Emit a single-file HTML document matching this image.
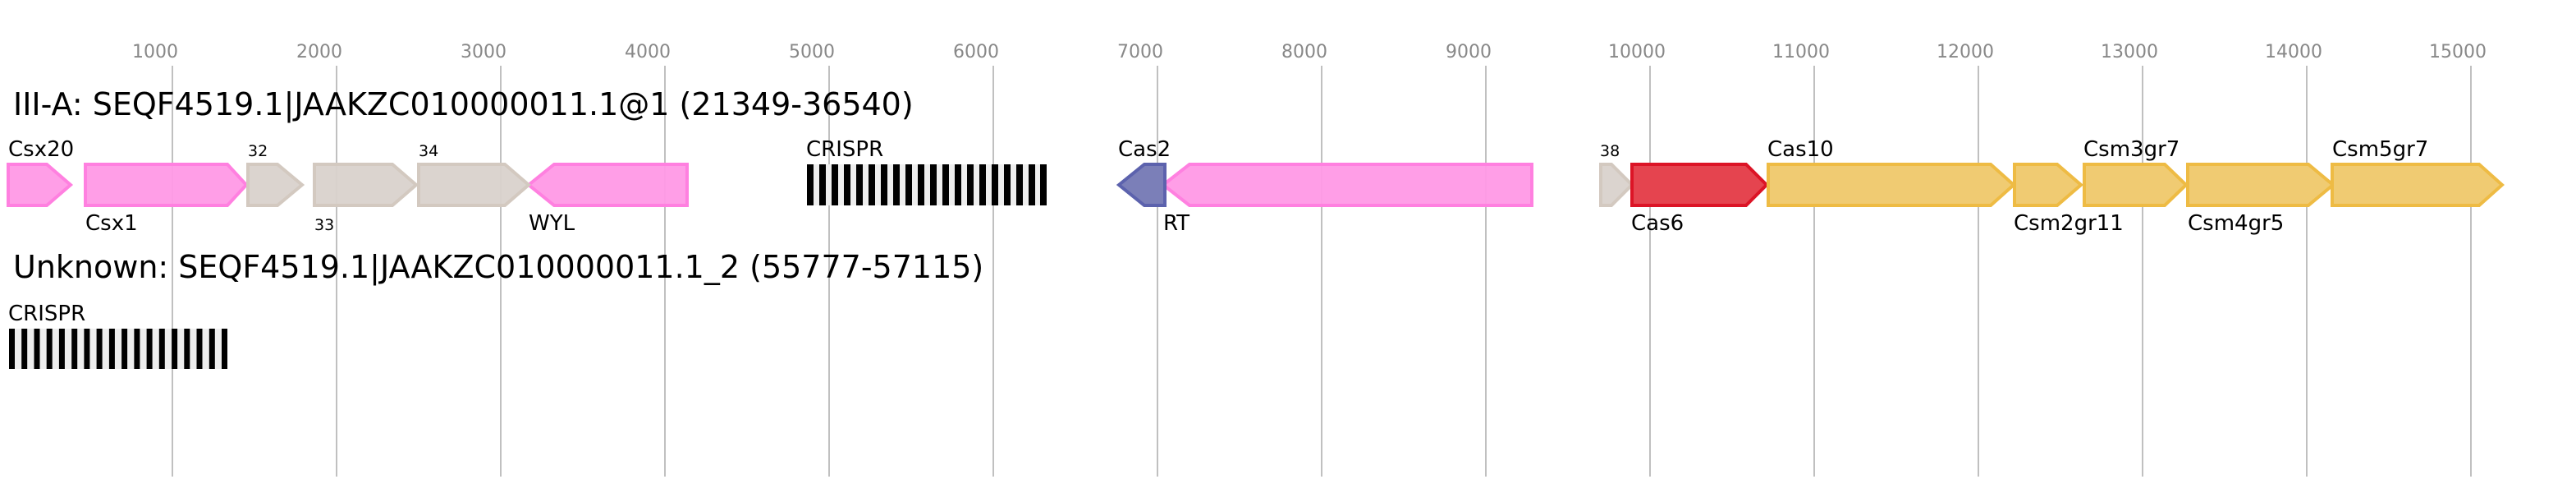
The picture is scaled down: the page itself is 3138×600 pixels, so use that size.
<!DOCTYPE html>
<html><head><meta charset="utf-8"><style>
html,body{margin:0;padding:0;background:#fff;width:3138px;height:600px;overflow:hidden}
text{font-family:"DejaVu Sans","Liberation Sans",sans-serif}
</style></head><body>
<svg width="3138" height="600" viewBox="0 0 3138 600" xmlns="http://www.w3.org/2000/svg">
<g stroke="#c0c0c0" stroke-width="2">
<line x1="210" y1="80" x2="210" y2="580"/><line x1="410" y1="80" x2="410" y2="580"/>
<line x1="610" y1="80" x2="610" y2="580"/><line x1="810" y1="80" x2="810" y2="580"/>
<line x1="1010" y1="80" x2="1010" y2="580"/><line x1="1210" y1="80" x2="1210" y2="580"/>
<line x1="1410" y1="80" x2="1410" y2="580"/><line x1="1610" y1="80" x2="1610" y2="580"/>
<line x1="1810" y1="80" x2="1810" y2="580"/><line x1="2010" y1="80" x2="2010" y2="580"/>
<line x1="2210" y1="80" x2="2210" y2="580"/><line x1="2410" y1="80" x2="2410" y2="580"/>
<line x1="2610" y1="80" x2="2610" y2="580"/><line x1="2810" y1="80" x2="2810" y2="580"/>
<line x1="3010" y1="80" x2="3010" y2="580"/>
</g>
<g fill="#888" font-size="22" text-anchor="middle">
<text x="189" y="70">1000</text><text x="389" y="70">2000</text><text x="589" y="70">3000</text>
<text x="789" y="70">4000</text><text x="989" y="70">5000</text><text x="1189" y="70">6000</text>
<text x="1389" y="70">7000</text><text x="1589" y="70">8000</text><text x="1789" y="70">9000</text>
<text x="1994" y="70">10000</text><text x="2194" y="70">11000</text><text x="2394" y="70">12000</text>
<text x="2594" y="70">13000</text><text x="2794" y="70">14000</text><text x="2994" y="70">15000</text>
</g>
<text x="16" y="140" font-size="38" fill="#000">III-A: SEQF4519.1|JAAKZC010000011.1@1 (21349-36540)</text>
<text x="16" y="338" font-size="38" fill="#000">Unknown: SEQF4519.1|JAAKZC010000011.1_2 (55777-57115)</text>
<g stroke-width="4" stroke-linejoin="miter">
<g fill="#ff99e6" stroke="#ff80e0" fill-opacity="0.95">
<polygon points="10,200 57,200 86,225 57,250 10,250"/>
<polygon points="104,200 277,200 300,225 277,250 104,250"/>
<polygon points="644,225 675,200 837,200 837,250 675,250"/>
<polygon points="1417,225 1449,200 1866,200 1866,250 1449,250"/>
</g>
<g fill="#d9d2cc" stroke="#d3c9c0" fill-opacity="0.95">
<polygon points="302,200 338,200 368,225 338,250 302,250"/>
<polygon points="383,200 478,200 507,225 478,250 383,250"/>
<polygon points="510,200 615,200 644,225 615,250 510,250"/>
<polygon points="1950,200 1963,200 1988,225 1963,250 1950,250"/>
</g>
<polygon fill="#7b7fb8" stroke="#5c62ad" points="1363,225 1394,200 1419,200 1419,250 1394,250"/>
<polygon fill="#e5444f" stroke="#dc1426" points="1988,200 2127,200 2152,225 2127,250 1988,250"/>
<g fill="#f0cb72" stroke="#eebb44">
<polygon points="2154,200 2425,200 2453,225 2425,250 2154,250"/>
<polygon points="2454,200 2506,200 2535,225 2506,250 2454,250"/>
<polygon points="2539,200 2637,200 2663,225 2637,250 2539,250"/>
<polygon points="2665,200 2812,200 2842,225 2812,250 2665,250"/>
<polygon points="2841,200 3020,200 3048,225 3020,250 2841,250"/>
</g>
</g>
<g fill="#eeeeee"><rect x="983" y="200" width="292" height="50"/><rect x="11" y="400" width="266" height="49"/></g>
<g fill="#000">
<rect x="983" y="200" width="8" height="50"/><rect x="998" y="200" width="8" height="50"/><rect x="1013" y="200" width="8" height="50"/><rect x="1028" y="200" width="8" height="50"/><rect x="1043" y="200" width="8" height="50"/><rect x="1058" y="200" width="8" height="50"/><rect x="1073" y="200" width="8" height="50"/><rect x="1088" y="200" width="8" height="50"/><rect x="1103" y="200" width="8" height="50"/><rect x="1118" y="200" width="8" height="50"/><rect x="1133" y="200" width="8" height="50"/><rect x="1148" y="200" width="8" height="50"/><rect x="1163" y="200" width="8" height="50"/><rect x="1178" y="200" width="8" height="50"/><rect x="1193" y="200" width="8" height="50"/><rect x="1208" y="200" width="8" height="50"/><rect x="1223" y="200" width="8" height="50"/><rect x="1238" y="200" width="8" height="50"/><rect x="1253" y="200" width="8" height="50"/><rect x="1267" y="200" width="8" height="50"/>
<rect x="11" y="400" width="7" height="49"/><rect x="26.2" y="400" width="7" height="49"/><rect x="41.5" y="400" width="7" height="49"/><rect x="56.7" y="400" width="7" height="49"/><rect x="71.9" y="400" width="7" height="49"/><rect x="87.2" y="400" width="7" height="49"/><rect x="102.4" y="400" width="7" height="49"/><rect x="117.6" y="400" width="7" height="49"/><rect x="132.9" y="400" width="7" height="49"/><rect x="148.1" y="400" width="7" height="49"/><rect x="163.4" y="400" width="7" height="49"/><rect x="178.6" y="400" width="7" height="49"/><rect x="193.8" y="400" width="7" height="49"/><rect x="209.1" y="400" width="7" height="49"/><rect x="224.3" y="400" width="7" height="49"/><rect x="239.5" y="400" width="7" height="49"/><rect x="254.8" y="400" width="7" height="49"/><rect x="270" y="400" width="7" height="49"/>
</g>
<g fill="#000" font-size="26">
<text x="10" y="190">Csx20</text><text x="104" y="280">Csx1</text><text x="644" y="280">WYL</text>
<text x="982" y="190">CRISPR</text><text x="1362" y="190">Cas2</text><text x="1417" y="280">RT</text>
<text x="1987" y="280">Cas6</text><text x="2153" y="190">Cas10</text><text x="2453" y="280">Csm2gr11</text>
<text x="2538" y="190">Csm3gr7</text><text x="2665" y="280">Csm4gr5</text><text x="2841" y="190">Csm5gr7</text>
<text x="10" y="390">CRISPR</text>
</g>
<g fill="#000" font-size="19">
<text x="302" y="190">32</text><text x="383" y="280">33</text><text x="510" y="190">34</text><text x="1949" y="190">38</text>
</g>
</svg>
</body></html>
